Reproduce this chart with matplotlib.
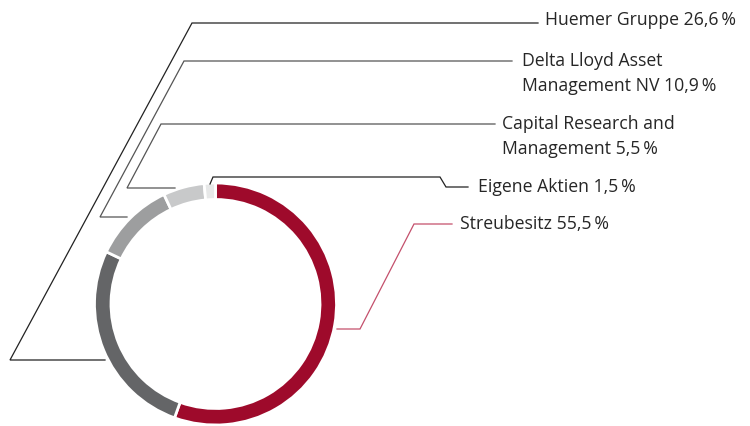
import matplotlib.pyplot as plt

W, H = 750, 426

labels = ["Streubesitz", "Huemer Gruppe", "Delta Lloyd Asset\nManagement NV",
          "Capital Research and\nManagement", "Eigene Aktien"]
shares = [55.5, 26.6, 10.9, 5.5, 1.5]
share_text = ["55,5", "26,6", "10,9", "5,5", "1,5"]
colors = ["#9e0a2b", "#646567", "#9d9e9f", "#c8c9ca", "#e7e8e8"]

# leader lines in pixel coords (y from top), and label anchor
leaders = [
    [(337, 329), (360, 329), (414, 224), (452, 224)],
    [(105, 360), (10, 360), (192, 23), (538, 23)],
    [(127, 217), (100, 217), (184, 61), (512, 61)],
    [(175, 188), (127, 188), (161, 124), (495, 124)],
    [(210, 184), (213, 177), (440, 177), (446, 187), (468, 187)],
]
line_colors = ["#c4506c", "#222222", "#555555", "#555555", "#222222"]
text_pos = [(460, 224), (545, 20), (522, 61), (502, 124), (478, 187)]
line_gap = 25

cx, cy, r, ring = 215.5, 304, 121, 16.5

plt.rcParams["font.family"] = ["Open Sans", "DejaVu Sans"]
fig = plt.figure(figsize=(W / 100, H / 100), dpi=100)
ax = fig.add_axes([0, 0, 1, 1])

ax.pie(shares, colors=colors, startangle=90, counterclock=False,
       center=(cx, H - cy), radius=r,
       wedgeprops=dict(width=ring, edgecolor="white", linewidth=2))

for pts, lc in zip(leaders, line_colors):
    xs = [p[0] for p in pts]
    ys = [H - p[1] for p in pts]
    ax.plot(xs, ys, color=lc, lw=0.9, solid_joinstyle="miter")

for lab, st, (tx, ty) in zip(labels, share_text, text_pos):
    lines = f"{lab} {st}\u2009%".split("\n")
    for i, line in enumerate(lines):
        ax.text(tx, H - ty - i * line_gap, line, ha="left", va="center",
                fontsize=12.7, color="#262626")

ax.set_xlim(0, W)
ax.set_ylim(0, H)
ax.set_aspect("equal")
ax.axis("off")
fig.savefig("out.png", dpi=100)
